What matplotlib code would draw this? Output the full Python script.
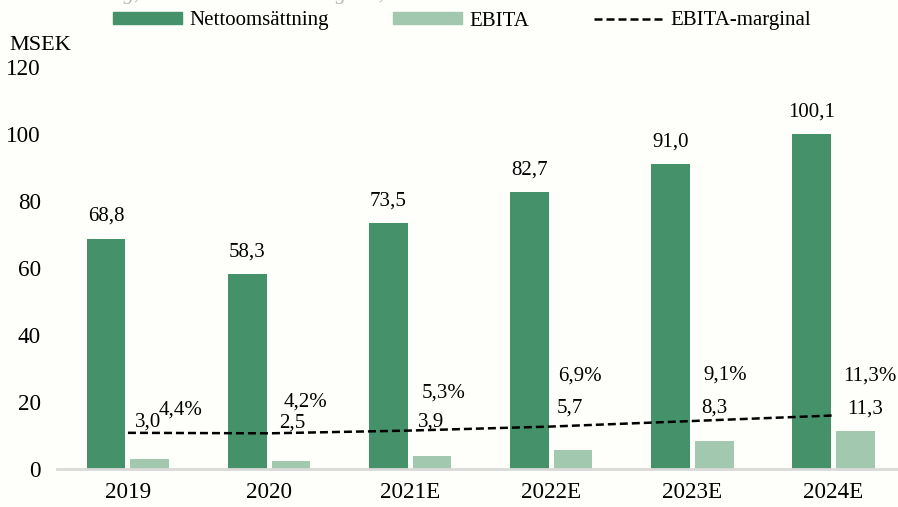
import matplotlib
matplotlib.use("Agg")
import matplotlib.pyplot as plt
import numpy as np
from matplotlib.lines import Line2D
from matplotlib.patches import Patch

years = ["2019", "2020", "2021E", "2022E", "2023E", "2024E"]
net_sales = [68.8, 58.3, 73.5, 82.7, 91.0, 100.1]
ebita = [3.0, 2.5, 3.9, 5.7, 8.3, 11.3]
margin = [4.4, 4.2, 5.3, 6.9, 9.1, 11.3]
net_labels = ["68,8", "58,3", "73,5", "82,7", "91,0", "100,1"]
ebita_labels = ["3,0", "2,5", "3,9", "5,7", "8,3", "11,3"]
margin_labels = ["4,4%", "4,2%", "5,3%", "6,9%", "9,1%", "11,3%"]

# label placement (style)
ebita_label_y = [14.0, 13.7, 14.0, 18.2, 18.2, 17.9]
ebita_label_dx = [-0.01, 0.01, -0.01, -0.02, 0.0, 0.07]
margin_label_y = [17.6, 20.0, 22.7, 27.8, 28.1, 27.8]
margin_label_dx = [0.37, 0.26, 0.235, 0.20, 0.235, 0.26]

BG = "#FEFEFB"
C_NS = "#45916A"
C_EB = "#A2C8B0"
FONT = "Liberation Serif"
FS = 15
FS_TICK = 16.7

plt.rcParams["font.family"] = [FONT, "DejaVu Serif"]

fig = plt.figure(figsize=(8.98, 5.07), dpi=100, facecolor=BG)
ax = fig.add_axes([57.4 / 898, 1 - 469 / 507, (898 - 57.4) / 898, (469 - 67) / 507])
ax.set_facecolor(BG)

x = np.arange(len(years))
w = 0.274
off = 0.155
ax.bar(x - off, net_sales, w, color=C_NS, zorder=2)
ax.bar(x + off, ebita, w, color=C_EB, zorder=2)

ax.set_ylim(0, 120)
ax.set_xlim(-0.5, 5.5 - 6 / 141.1)
ax.set_yticks(range(0, 121, 20))
ax.set_xticks(x)
ax.set_xticklabels(years)
ax.tick_params(axis="both", length=0, labelsize=FS_TICK)
ax.tick_params(axis="y", pad=12)
ax.tick_params(axis="x", pad=9)
for s in ["top", "right", "left"]:
    ax.spines[s].set_visible(False)
ax.spines["bottom"].set_color("#D9D9D9")
ax.spines["bottom"].set_linewidth(2)

for i, v in enumerate(net_sales):
    ax.annotate(net_labels[i], (x[i] - off, v), xytext=(0, 9), textcoords="offset points",
                ha="center", va="bottom", fontsize=FS, zorder=5)
for i in range(len(years)):
    ax.text(x[i] + off + ebita_label_dx[i], ebita_label_y[i], ebita_labels[i],
            ha="center", va="center", fontsize=FS, zorder=5)
    ax.text(x[i] + margin_label_dx[i], margin_label_y[i], margin_labels[i],
            ha="center", va="center", fontsize=FS, zorder=5)

ax2 = ax.twinx()
ax2.set_ylim(-10, 150)
ax2.plot(x, margin, color="black", lw=1.8, linestyle=(0, (3.2, 1.6)), zorder=3)
ax2.axis("off")

fig.text(9 / 898, 1 - 45 / 507, "MSEK", fontsize=16, ha="left", va="center")

handles = [Patch(color=C_NS), Patch(color=C_EB),
           Line2D([], [], color="black", lw=1.8, linestyle=(0, (3.2, 1.6)))]
leg = fig.legend(handles, ["Nettoomsättning", "EBITA", "EBITA-marginal"],
                 loc="center", bbox_to_anchor=(462 / 898, 1 - 21 / 507), ncol=3,
                 frameon=False, fontsize=FS, handlelength=3.3, handleheight=0.5,
                 handletextpad=0.35, columnspacing=3.1)

fig.text(-4 / 898, 1 + 5 / 507, "Nettoomsättning, EBITA och EBITA-marginal, MSEK",
         fontsize=15, color="#B8B8B8", style="italic", ha="left", va="center")

fig.savefig("out.png", dpi=100, facecolor=BG)
